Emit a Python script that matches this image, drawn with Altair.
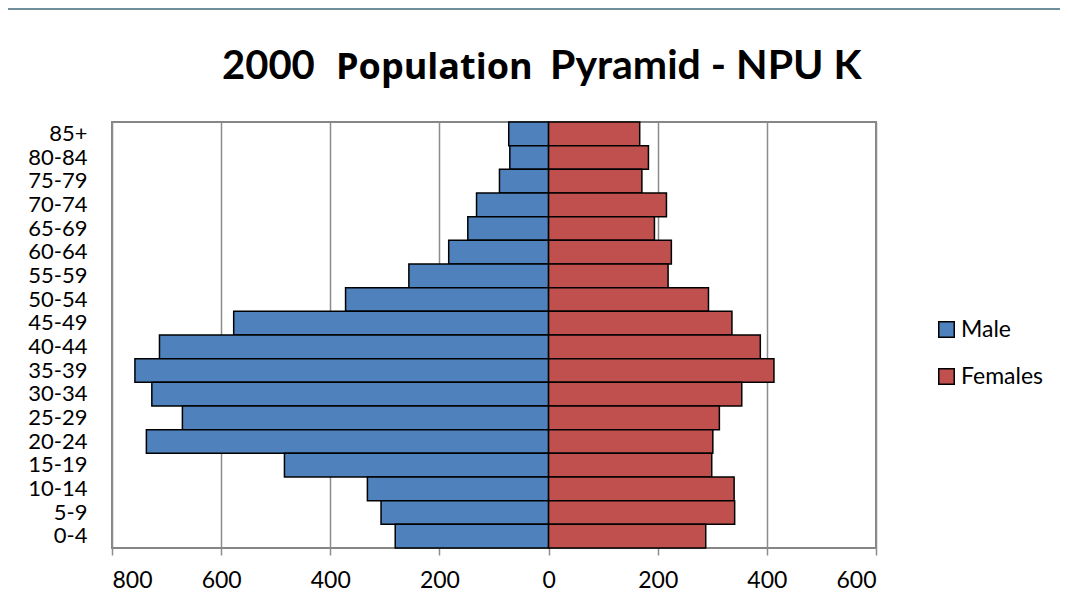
import altair as alt
import pandas as pd

ages = ["85+", "80-84", "75-79", "70-74", "65-69", "60-64", "55-59", "50-54", "45-49",
        "40-44", "35-39", "30-34", "25-29", "20-24", "15-19", "10-14", "5-9", "0-4"]
male = [73, 71, 90, 132, 148, 183, 256, 372, 577, 713, 758, 727, 671, 737, 484, 332, 307, 281]
females = [167, 183, 171, 216, 194, 225, 219, 293, 336, 388, 413, 354, 313, 301, 299, 340, 341, 288]
sexes = ["Male", "Females"]
colors = ["#4F81BD", "#C0504D"]
x_ticks = [-800, -600, -400, -200, 0, 200, 400, 600]

rows = []
for a, m, f in zip(ages, male, females):
    rows.append({"age": a, "sex": "Male", "value": -m})
    rows.append({"age": a, "sex": "Females", "value": f})
df = pd.DataFrame(rows)

W, H = 764, 426
FONT = "Lato"

bars = alt.Chart(df).mark_bar(stroke="black", strokeWidth=1.5).encode(
    y=alt.Y("age:N", sort=ages,
            scale=alt.Scale(paddingInner=0, paddingOuter=0),
            axis=alt.Axis(title=None, labelFontSize=22, labelFont=FONT, labelColor="black",
                          ticks=False, domain=False, labelPadding=25, grid=False)),
    x=alt.X("value:Q",
            scale=alt.Scale(domain=[-800, 600], nice=False, zero=False),
            axis=alt.Axis(title=None, values=x_ticks, labelExpr="abs(datum.value)",
                          labelFontSize=23, labelFont=FONT, labelColor="black",
                          grid=True, gridColor="#8c8c8c", gridWidth=1.5,
                          tickColor="#8c8c8c", tickSize=7, tickWidth=1.5,
                          domain=False, labelPadding=14)),
    color=alt.Color("sex:N",
                    scale=alt.Scale(domain=sexes, range=colors),
                    legend=alt.Legend(orient="none", legendX=823, legendY=196, title=None,
                                      symbolType="square", symbolSize=240,
                                      symbolStrokeColor="black", symbolStrokeWidth=1.5,
                                      labelFontSize=23, labelFont=FONT, labelColor="black",
                                      rowPadding=23, labelOffset=3)),
)

def title_piece(txt, x, size, font):
    return alt.Chart(alt.Data(values=[{"t": txt}])).mark_text(
        align="left", baseline="alphabetic", font=font, fontWeight="bold",
        fontSize=size, color="black"
    ).encode(text="t:N", x=alt.value(x), y=alt.value(-43))

t1 = title_piece("2000", 110, 40, FONT)
t2 = title_piece("Population", 224, 36, "Open Sans")
t3 = title_piece("Pyramid - NPU K", 438, 41, FONT)

border = alt.Chart(alt.Data(values=[{}])).mark_rule(color="#6e8f99", strokeWidth=2).encode(
    x=alt.value(-104), x2=alt.value(W + 184), y=alt.value(-113)
)

chart = alt.layer(border, bars, t1, t2, t3).properties(
    width=W, height=H,
    autosize=alt.AutoSizeParams(type="none"),
    padding={"left": 104, "top": 114, "right": 184, "bottom": 51},
    background="white",
).configure_view(stroke="#868686", strokeWidth=2)

chart.save("out.html", embed_options={"renderer": "svg", "actions": False})
